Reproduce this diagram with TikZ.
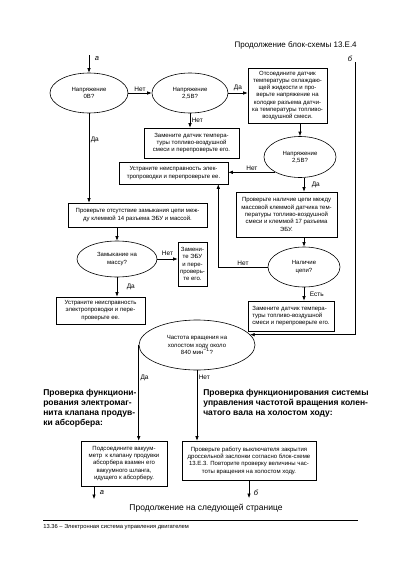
\documentclass[tikz,border=0pt]{standalone}
\usepackage{fontspec}
\setmainfont{Liberation Sans}
\usetikzlibrary{shapes.geometric,arrows.meta,positioning}

\begin{document}
\begin{tikzpicture}[x=1pt, y=-1pt, line width=0.6pt, >={Latex[length=4.5pt,width=3.5pt]},
    box/.style = {draw, rectangle, align=center, inner sep=1pt, font=\fontsize{6}{7.3}\selectfont},
    ask/.style = {draw, ellipse, align=center, inner sep=0pt, font=\fontsize{6}{7.3}\selectfont},
    lbl/.style = {font=\fontsize{6.5}{7.5}\selectfont, inner sep=1.5pt},
    head/.style = {align=left, inner sep=0pt, anchor=north west, font=\fontsize{8.5}{10}\selectfont\bfseries}]
    \useasboundingbox (0,0) rectangle (412,570);
    \node[anchor=east, inner sep=0pt, font=\fontsize{8}{9}\selectfont] (top) at (357,45) {Продолжение блок-схемы 13.Е.4};
    \coordinate (in1) at (89,55);
    \coordinate (in2) at (355,62);
    \node[lbl, font=\fontsize{7.5}{8}\selectfont\itshape] (la) at (97,59) {а};
    \node[lbl, font=\fontsize{7.5}{8}\selectfont\itshape] (lb) at (350,59) {б};
    \node[ask, minimum width=78pt, minimum height=40pt] (q1) at (89,93) {Напряжение\\0В?};
    \node[ask, minimum width=76pt, minimum height=40pt] (q2) at (190,93) {Напряжение\\2,5В?};
    \node[box, minimum width=79pt, minimum height=55pt] (b1) at (287.5,95.5) {Отсоедините датчик\\температуры охлаждаю-\\щей жидкости и про-\\верьте напряжение на\\колодке разъема датчи-\\ка температуры топливо-\\воздушной смеси.};
    \node[box, minimum width=95pt, minimum height=30pt] (b2) at (191.5,143) {Замените датчик темпера-\\туры топливо-воздушной\\смеси и перепроверьте его.};
    \node[box, minimum width=109pt, minimum height=22pt] (b3) at (173.5,173) {Устраните неисправность элек-\\тропроводки и перепроверьте ее.};
    \node[ask, minimum width=72pt, minimum height=41pt] (q3) at (300,157) {Напряжение\\2,5В?};
    \node[box, minimum width=101pt, minimum height=45pt] (b4) at (286.5,214.5) {Проверьте наличие цепи между\\массовой клеммой датчика тем-\\пературы топливо-воздушной\\смеси и клеммой 17 разъема\\ЭБУ.};
    \node[ask, minimum width=72pt, minimum height=40pt] (q4) at (304,267) {Наличие\\цепи?};
    \node[box, align=left, minimum width=86pt, minimum height=30pt] (b5) at (291,316) {Замените датчик темпера-\\туры топливо-воздушной\\смеси и перепроверьте его.};
    \node[box, minimum width=139pt, minimum height=24pt] (b6) at (137.5,215) {Проверьте отсутствие замыкания цепи меж-\\ду клеммой 14 разъема ЭБУ и массой.};
    \node[ask, minimum width=80pt, minimum height=36pt] (q5) at (117,259) {Замыкание на\\массу?};
    \node[box, minimum width=29pt, minimum height=44pt] (b7) at (192.5,264) {Замени-\\те ЭБУ\\и пере-\\проверь-\\те его.};
    \node[box, minimum width=89pt, minimum height=27pt] (b8) at (100.5,310.5) {Устраните неисправность\\электропроводки и пере-\\проверьте ее.};
    \node[ask, minimum width=116pt, minimum height=50pt] (q6) at (197,345) {Частота вращения на\\холостом ходу около\\840 мин\textsuperscript{−1}?};
    \node[head] (h1) at (43,389) {Проверка функциони-\\рования электромаг-\\нита клапана продув-\\ки абсорбера:};
    \node[head] (h2) at (203,389) {Проверка функционирования системы\\управления частотой вращения колен-\\чатого вала на холостом ходу:};
    \node[box, minimum width=86pt, minimum height=45pt] (b9) at (124,463.5) {Подсоедините вакуум-\\метр \ к клапану продувки\\абсорбера взамен его\\вакуумного шланга,\\идущего к абсорберу.};
    \node[box, minimum width=134pt, minimum height=39pt] (b10) at (249,460.5) {Проверьте работу выключателя закрытия\\дроссельной заслонки согласно блок-схеме\\13.Е.3. Повторите проверку величины час-\\тоты вращения на холостом ходу.};
    \coordinate (out1) at (94,499);
    \coordinate (out2) at (249,498);
    \node[lbl, font=\fontsize{7.5}{8}\selectfont\itshape] (la2) at (102,493) {а};
    \node[lbl, font=\fontsize{7.5}{8}\selectfont\itshape] (lb2) at (256,493) {б};
    \node[inner sep=0pt, font=\fontsize{8.5}{9}\selectfont] (next) at (206,508) {Продолжение на следующей странице};
    \draw[line width=0.8pt] (43,520) -- (358,520);
    \node[anchor=west, inner sep=0pt, font=\fontsize{5.8}{6}\selectfont] (foot) at (43,527) {13.36 – Электронная система управления двигателем};
    \draw[->] (in1) -- (q1);
    \draw[->] (q1) -- (q1 -| q2.west) node[lbl, midway, above] {Нет};
    \draw[->] (q2) -- (q2 -| b1.west) node[lbl, midway, above] {Да};
    \draw[->] (q2.south) -- (q2.south |- b2.north) node[lbl, midway, right] {Нет};
    \draw[->] (b1.south -| q3) -- (q3);
    \draw[->] (q3.212) -- (q3.212 -| b3.east) node[lbl, midway, above] {Нет};
    \draw[->] (q3.south -| b4.north -| q4) -- (b4.north -| q4) node[lbl, midway, right=6pt] {Да};
    \draw[->] (b4.south -| q4) -- (q4);
    \draw[->] (q4.west) -| ([xshift=-10pt]b3.south east) node[lbl, pos=0.25, above] {Нет};
    \draw[->] (q4.south) -- (q4.south |- b5.north) node[lbl, midway, right=4pt] {Есть};
    \draw[->] (q1.south) -- (q1.south |- b6.north) node[lbl, pos=0.3, right] {Да};
    \draw[->] (b6.south -| q5) -- (q5);
    \draw[->] (q5) -- (q5 -| b7.west) node[lbl, midway, above=2pt] {Нет};
    \draw[->] (q5.south) -- (q5.south |- b8.north) node[lbl, midway, right=8pt] {Да};
    \draw[->] (in2) |- (q6.11);
    \draw[->] (q6.west) -- (q6.west |- b9.north) node[lbl, pos=0.34, right] {Да};
    \draw[->] (q6.south) -- (q6.south |- b10.north) node[lbl, pos=0.1, right] {Нет};
    \draw[->] (b9.south -| out1) -- (out1);
    \draw[->] (b10.south -| out2) -- (out2);
\end{tikzpicture}
\end{document}
